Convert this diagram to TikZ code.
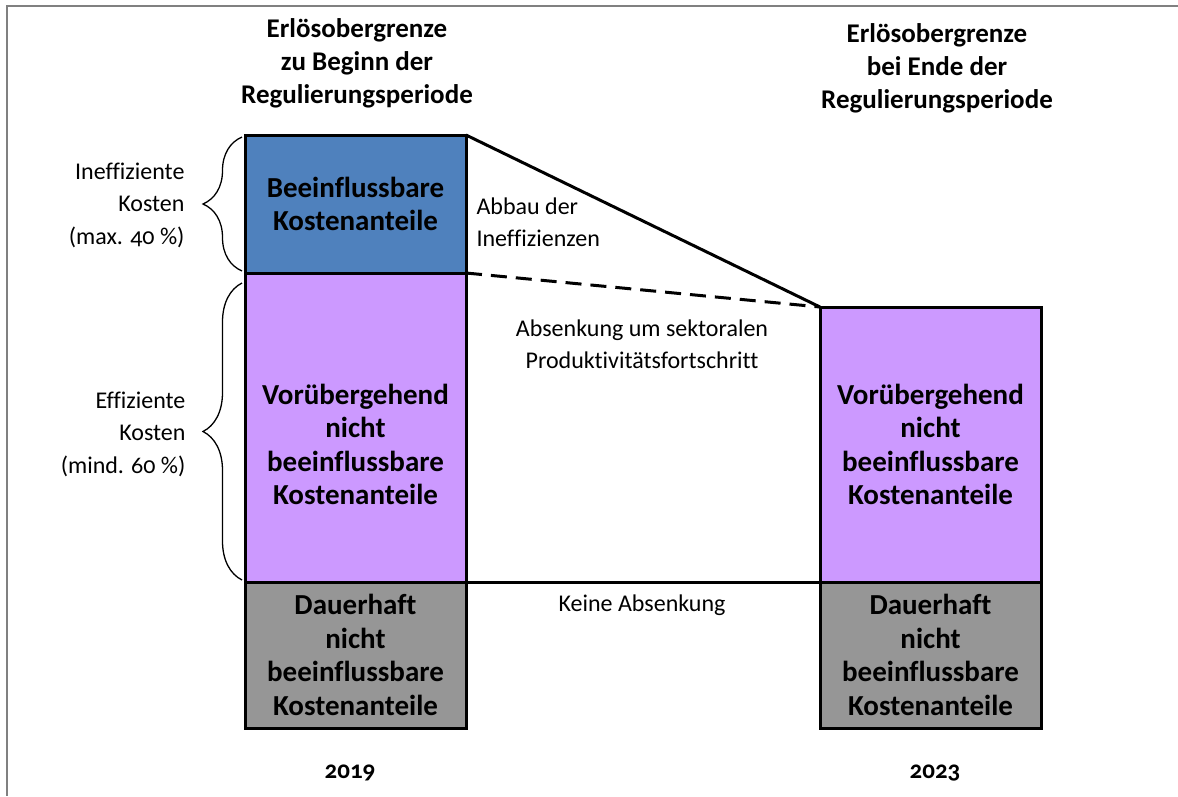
\documentclass[tikz,border=0pt]{standalone}
\usepackage{fontspec}
\setmainfont{Carlito}[Numbers=OldStyle, Ligatures=NoCommon]
\usepackage{xcolor}
\usetikzlibrary{positioning,decorations.pathreplacing}
\definecolor{kblue}{HTML}{4F81BD}
\definecolor{kpurple}{HTML}{CC99FF}
\definecolor{kgray}{HTML}{969696}
\definecolor{kframe}{HTML}{808080}

\begin{document}
\begin{tikzpicture}[x=1pt, y=-1pt,
    box/.style={draw=black, line width=3pt, minimum width=221pt, inner sep=0pt, outer sep=0pt,
                font=\fontsize{29}{33.5}\selectfont\bfseries, align=center},
    boxtxt/.style={font=\fontsize{29}{33.5}\selectfont\bfseries, align=center},
    head/.style={font=\fontsize{27}{33}\selectfont\bfseries, align=center},
    year/.style={font=\fontsize{25}{28}\selectfont\bfseries},
    lbl/.style={font=\fontsize{24}{32.5}\selectfont, align=center},
    brc/.style={decorate, decoration={brace, amplitude=39pt}, line width=1.3pt},
    conn/.style={line width=3pt}]
  \useasboundingbox (0,0) rectangle (1178,796);
  \draw[kframe, line width=1.5pt] (1178,6) -- (7,6) -- (7,796);

  % 2019
  \node[head] (headL) at (357,63) {Erlösobergrenze\\zu Beginn der\\Regulierungsperiode};
  \node[box, fill=kblue, minimum height=138pt, anchor=north west] (beeL) at (245,135) {Beeinflussbare\\Kostenanteile};
  \node[box, fill=kpurple, minimum height=309pt, anchor=north] (vnbL) at (beeL.south) {};
  \node[boxtxt, yshift=-17pt] (vnbLtxt) at (vnbL) {Vorübergehend\\nicht\\beeinflussbare\\Kostenanteile};
  \node[box, fill=kgray, minimum height=146pt, anchor=north] (dnbL) at (vnbL.south) {Dauerhaft\\nicht\\beeinflussbare\\Kostenanteile};
  \node[year] (yearL) at (350,773) {2019};

  % 2023
  \node[head] (headR) at (937,68) {Erlösobergrenze\\bei Ende der\\Regulierungsperiode};
  \node[box, fill=kpurple, minimum height=275pt, anchor=north west] (vnbR) at (820,307) {Vorübergehend\\nicht\\beeinflussbare\\Kostenanteile};
  \node[box, fill=kgray, minimum height=146pt, anchor=north] (dnbR) at (vnbR.south) {Dauerhaft\\nicht\\beeinflussbare\\Kostenanteile};
  \node[year] (yearR) at (935,773) {2023};

  % Klammern links
  \draw[brc] ([shift={(-3,-2)}]beeL.south west) -- ([shift={(-3,2)}]beeL.north west);
  \draw[brc] ([shift={(-3,-2)}]vnbL.south west) -- ([shift={(-3,10)}]vnbL.north west);
  \node[lbl, align=right, anchor=east] (ineff) at (188,205) {Ineffiziente\\Kosten\\(max. 40~\%)};
  \node[lbl, align=right, anchor=east] (eff) at (189,434) {Effiziente\\Kosten\\(mind. 60~\%)};

  % Verbindungen
  \draw[conn] (beeL.north east) -- (vnbR.north west);
  \draw[conn, dash pattern=on 16pt off 9pt] (beeL.south east) -- (vnbR.north west);
  \draw[conn] (vnbL.south east) -- (vnbR.south west);

  \node[lbl, align=left, anchor=west] (abbau) at (473,222) {Abbau der\\Ineffizienzen};
  \node[lbl] (xgen) at (642,344) {Absenkung um sektoralen\\Produktivitätsfortschritt};
  \node[lbl] (keine) at (642,605) {Keine Absenkung};
\end{tikzpicture}
\end{document}
